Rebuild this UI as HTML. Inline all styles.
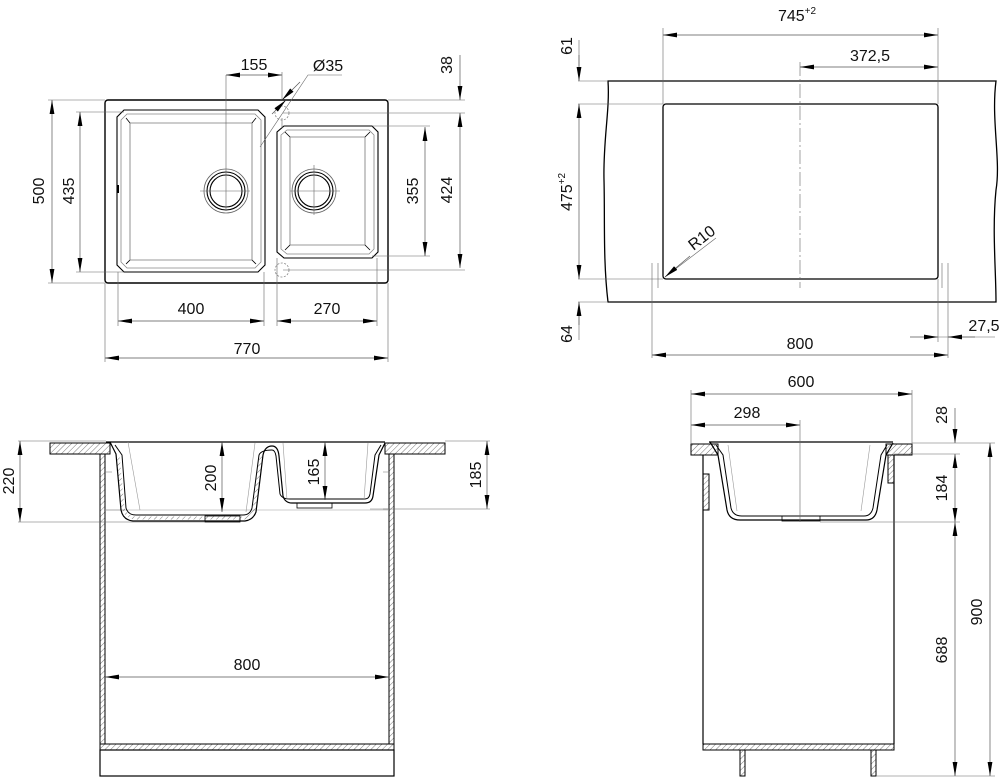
<!DOCTYPE html>
<html><head><meta charset="utf-8"><style>
html,body{margin:0;padding:0;background:#fff;}
svg{display:block;}
text{font-family:"Liberation Sans Narrow","Liberation Sans",sans-serif;font-size:16px;fill:#111;}
</style></head><body>
<svg width="1000" height="779" viewBox="0 0 1000 779" xmlns="http://www.w3.org/2000/svg">
<defs>
<marker id="a" viewBox="0 0 14 6" refX="14" refY="3" markerWidth="14" markerHeight="6" markerUnits="userSpaceOnUse" orient="auto-start-reverse"><path d="M0,0.6 L14,3 L0,5.4z" fill="#000"/></marker>
<pattern id="h" width="4" height="4" patternUnits="userSpaceOnUse" patternTransform="rotate(45)"><line x1="0" y1="0" x2="0" y2="4" stroke="#555" stroke-width="0.8"/></pattern>
</defs>
<g fill="none" stroke="#000">

<!-- ============ TOP LEFT: plan view ============ -->
<rect x="105" y="100" width="283" height="183" rx="3" stroke-width="1.4"/>
<!-- left bowl -->
<path d="M124,110 H258 L265,117 V265 L258,272 H124 L117,265 V117Z" stroke-width="1.1"/>
<path d="M127,114 H255 L261,120 V262 L255,268 H127 L121,262 V120Z" stroke="#888" stroke-width="0.8"/>
<path d="M130,123 H252 V260 H130Z" stroke="#777" stroke-width="0.8"/>
<path d="M126,118 L130,123 M256,118 L252,123 M126,264 L130,260 M256,264 L252,260" stroke-width="0.8"/>
<!-- right bowl -->
<path d="M284,126 H372 L378,132 V252 L372,258 H284 L277,252 V132Z" stroke-width="1.1"/>
<path d="M287,130 H369 L374,135 V249 L369,254 H287 L281,249 V135Z" stroke="#888" stroke-width="0.8"/>
<path d="M290,137 H365 V245 H290Z" stroke="#777" stroke-width="0.8"/>
<path d="M285,132 L290,137 M370,132 L365,137 M285,250 L290,245 M370,250 L365,245" stroke-width="0.8"/>
<!-- drains -->
<circle cx="226" cy="191" r="22" stroke="#666" stroke-width="0.8"/>
<circle cx="226" cy="191" r="19" stroke-width="1.1"/>
<circle cx="226" cy="191" r="16" stroke-width="1.1"/>
<circle cx="314" cy="191" r="22" stroke="#666" stroke-width="0.8"/>
<circle cx="314" cy="191" r="19" stroke-width="1.1"/>
<circle cx="314" cy="191" r="16" stroke-width="1.1"/>
<circle cx="282" cy="113" r="7" stroke="#888" stroke-width="0.8" stroke-dasharray="2,1.5"/>
<circle cx="282" cy="270" r="7" stroke="#888" stroke-width="0.8" stroke-dasharray="2,1.5"/>
<path d="M118,185 v8" stroke-width="2"/>
<!-- center lines / extensions -->
<g stroke="#666" stroke-width="0.6">
<path d="M226,75 V210 M314,165 V215 M200,191 H250 M290,191 H340"/>
<path d="M282,72 V100 M282,118 V128"/>
<path d="M48,100 H105 M76,112 H124 M76,272 H124 M48,283 H105"/>
<path d="M372,126 H430 M372,256 H430 M283,270 H465 M283,113 H465 M388,100 H465"/>
<path d="M118,272 V326 M264,272 V326 M277,258 V326 M377,258 V326 M105,283 V362 M388,283 V362"/>
<path d="M260,147 L308,75 H342"/>
</g>
<g stroke="#555" stroke-width="0.7">
<path d="M52,100 V283" marker-start="url(#a)" marker-end="url(#a)"/>
<path d="M80,112 V272" marker-start="url(#a)" marker-end="url(#a)"/>
<path d="M425,127 V256" marker-start="url(#a)" marker-end="url(#a)"/>
<path d="M460,113 V268" marker-start="url(#a)" marker-end="url(#a)"/>
<path d="M460,55 V100" marker-end="url(#a)"/>
<path d="M118,321 H264" marker-start="url(#a)" marker-end="url(#a)"/>
<path d="M277,321 H377" marker-start="url(#a)" marker-end="url(#a)"/>
<path d="M105,358 H388" marker-start="url(#a)" marker-end="url(#a)"/>
<path d="M226,75 H282" marker-start="url(#a)" marker-end="url(#a)"/>
<path d="M300,82 L282,100" marker-end="url(#a)"/>
<path d="M260,118 L274,104" marker-end="url(#a)" transform="translate(12,-4)"/>
</g>

<!-- ============ TOP RIGHT: countertop ============ -->
<path d="M608,81 H996 C991,120 1001,160 996,190 C992,230 996,270 996,302 H608 C603,260 605,220 604,180 C603,140 610,110 608,81Z" stroke-width="1.3"/>
<rect x="663" y="104" width="275" height="175" rx="3" stroke-width="1.3"/>
<g stroke="#666" stroke-width="0.6">
<path d="M800,62 V288" stroke-dasharray="14,3,2,3"/>
<path d="M663,28 V104 M938,28 V104 M578,81 H608 M578,104 H663 M578,279 H663 M578,302 H608"/>
<path d="M652,263 V358 M658,263 V288 M942,263 V288 M948,263 V358 M938,279 V342 M938,337 H995"/>
<path d="M579,40 V66 M579,312 V340"/>
<path d="M665,277 L716,238"/>
</g>
<g stroke="#555" stroke-width="0.7">
<path d="M663,35 H938" marker-start="url(#a)" marker-end="url(#a)"/>
<path d="M800,67 H938" marker-start="url(#a)" marker-end="url(#a)"/>
<path d="M579,55 V81" marker-end="url(#a)"/>
<path d="M579,104 V279" marker-start="url(#a)" marker-end="url(#a)"/>
<path d="M579,325 V302" marker-end="url(#a)"/>
<path d="M652,355 H948" marker-start="url(#a)" marker-end="url(#a)"/>
<path d="M910,337 H938" marker-end="url(#a)"/>
<path d="M975,337 H948" marker-end="url(#a)"/>
<path d="M690,256 L665,277" marker-end="url(#a)"/>
</g>

<!-- ============ BOTTOM LEFT: front section ============ -->
<rect x="50" y="443" width="60" height="11" fill="url(#h)" stroke-width="1"/>
<rect x="385" y="443" width="60" height="11" fill="url(#h)" stroke-width="1"/>
<rect x="100" y="454" width="5" height="290" fill="url(#h)" stroke-width="1"/>
<rect x="389" y="454" width="5" height="290" fill="url(#h)" stroke-width="1"/>
<rect x="100" y="744" width="294" height="6" fill="url(#h)" stroke-width="1"/>
<rect x="100" y="750" width="294" height="26" stroke-width="1.2"/>
<path d="M105,472 H112 M105,510 H125 M383,472 H389 M370,509 H389" stroke="#777" stroke-width="0.6"/>
<path d="M105,510 H389" stroke="#999" stroke-width="0.5"/>
<!-- bowls -->
<path d="M106,442 H385" stroke-width="1.2"/>
<path d="M110,442 L116,454 L121,510 Q123,520 133,521 H245 Q253,520 256,512 L263,455 Q265,446 272,446 Q278,446 279,456 L283,496 Q285,503 292,503 H365 Q372,503 373,496 L379,455 L385,443" stroke-width="1.2"/>
<path d="M115,445 L122,455 L126,508 Q128,515 136,515 H243 Q250,515 252,508 L259,455 Q261,450 272,450 Q275,450 276,456 L280,494 Q282,499 290,499 H365 Q369,499 370,494 L375,455 L381,445" stroke-width="1"/>
<path d="M128,442 L140,510 M255,443 L246,512 M283,443 L287,500 M368,443 L364,500" stroke="#999" stroke-width="0.6"/>
<path d="M118,455 L123,508 Q126,517 135,518 H244 Q252,517 254,510 L261,455" stroke="url(#h)" stroke-width="3"/>
<rect x="205" y="516" width="35" height="6" stroke-width="0.8"/>
<rect x="297" y="503" width="35" height="5" stroke-width="0.8"/>
<g stroke="#666" stroke-width="0.6">
<path d="M18,441 H106 M18,522 H205 M445,441 H490 M383,509 H490"/>
</g>
<g stroke="#555" stroke-width="0.7">
<path d="M20,441 V522" marker-start="url(#a)" marker-end="url(#a)"/>
<path d="M222,442 V512" marker-start="url(#a)" marker-end="url(#a)"/>
<path d="M325,442 V500" marker-start="url(#a)" marker-end="url(#a)"/>
<path d="M487,441 V509" marker-start="url(#a)" marker-end="url(#a)"/>
<path d="M105,677 H389" marker-start="url(#a)" marker-end="url(#a)"/>
</g>

<!-- ============ BOTTOM RIGHT: side section ============ -->
<rect x="691" y="444" width="27" height="11" fill="url(#h)" stroke-width="1"/>
<rect x="886" y="444" width="26" height="11" fill="url(#h)" stroke-width="1"/>
<path d="M703,455 V744 M894,455 V744" stroke-width="1.2"/>
<rect x="703" y="474" width="6" height="36" fill="url(#h)" stroke-width="1"/>
<rect x="888" y="455" width="6" height="28" fill="url(#h)" stroke-width="1"/>
<rect x="703" y="744" width="191" height="6" fill="url(#h)" stroke-width="1"/>
<rect x="740" y="750" width="5" height="26" fill="url(#h)" stroke-width="1"/>
<rect x="871" y="750" width="5" height="26" fill="url(#h)" stroke-width="1"/>
<path d="M709,442 H893" stroke-width="1.2"/>
<path d="M710,442 L718,455 L727,510 Q729,520 740,520 H866 Q875,520 877,510 L886,455 L893,443" stroke-width="1.2"/>
<path d="M716,445 L723,455 L731,508 Q733,516 742,516 H864 Q871,516 873,508 L881,455 L887,445" stroke-width="1"/>
<path d="M728,445 L737,511 M870,445 L861,511" stroke="#999" stroke-width="0.6"/>
<rect x="782" y="516" width="38" height="5" stroke-width="0.8"/>
<g stroke="#666" stroke-width="0.6">
<path d="M691,390 V444 M912,390 V444 M800,420 V522"/>
<path d="M912,443 H995 M894,454 H960 M820,522 H960 M876,776 H995"/>
</g>
<g stroke="#555" stroke-width="0.7">
<path d="M691,394 H912" marker-start="url(#a)" marker-end="url(#a)"/>
<path d="M691,425 H800" marker-start="url(#a)" marker-end="url(#a)"/>
<path d="M955,408 V443" marker-end="url(#a)"/>
<path d="M955,454 V522" marker-start="url(#a)" marker-end="url(#a)"/>
<path d="M955,522 V776" marker-start="url(#a)" marker-end="url(#a)"/>
<path d="M990,443 V776" marker-start="url(#a)" marker-end="url(#a)"/>
</g>
</g>

<!-- ============ TEXT ============ -->
<g>
<text x="254" y="70" text-anchor="middle">155</text>
<text x="328" y="71" text-anchor="middle">Ø35</text>
<text transform="translate(452,65) rotate(-90)" text-anchor="middle">38</text>
<text transform="translate(44,191) rotate(-90)" text-anchor="middle">500</text>
<text transform="translate(74,191) rotate(-90)" text-anchor="middle">435</text>
<text transform="translate(418,191) rotate(-90)" text-anchor="middle">355</text>
<text transform="translate(452,190) rotate(-90)" text-anchor="middle">424</text>
<text x="191" y="314" text-anchor="middle">400</text>
<text x="327" y="314" text-anchor="middle">270</text>
<text x="247" y="354" text-anchor="middle">770</text>

<text x="797" y="21" text-anchor="middle">745<tspan font-size="10" dy="-7">+2</tspan></text>
<text x="870" y="61" text-anchor="middle">372,5</text>
<text transform="translate(572,46) rotate(-90)" text-anchor="middle">61</text>
<text transform="translate(572,192) rotate(-90)" text-anchor="middle">475<tspan font-size="10" dy="-7">+2</tspan></text>
<text transform="translate(572,334) rotate(-90)" text-anchor="middle">64</text>
<text transform="translate(705,242) rotate(-38)" text-anchor="middle">R10</text>
<text x="800" y="349" text-anchor="middle">800</text>
<text x="984" y="331" text-anchor="middle">27,5</text>

<text transform="translate(14,481) rotate(-90)" text-anchor="middle">220</text>
<text transform="translate(216,478) rotate(-90)" text-anchor="middle">200</text>
<text transform="translate(319,472) rotate(-90)" text-anchor="middle">165</text>
<text transform="translate(481,475) rotate(-90)" text-anchor="middle">185</text>
<text x="247" y="670" text-anchor="middle">800</text>

<text x="801" y="387" text-anchor="middle">600</text>
<text x="747" y="418" text-anchor="middle">298</text>
<text transform="translate(947,415) rotate(-90)" text-anchor="middle">28</text>
<text transform="translate(947,488) rotate(-90)" text-anchor="middle">184</text>
<text transform="translate(947,650) rotate(-90)" text-anchor="middle">688</text>
<text transform="translate(982,612) rotate(-90)" text-anchor="middle">900</text>
</g>
</svg>
</body></html>
